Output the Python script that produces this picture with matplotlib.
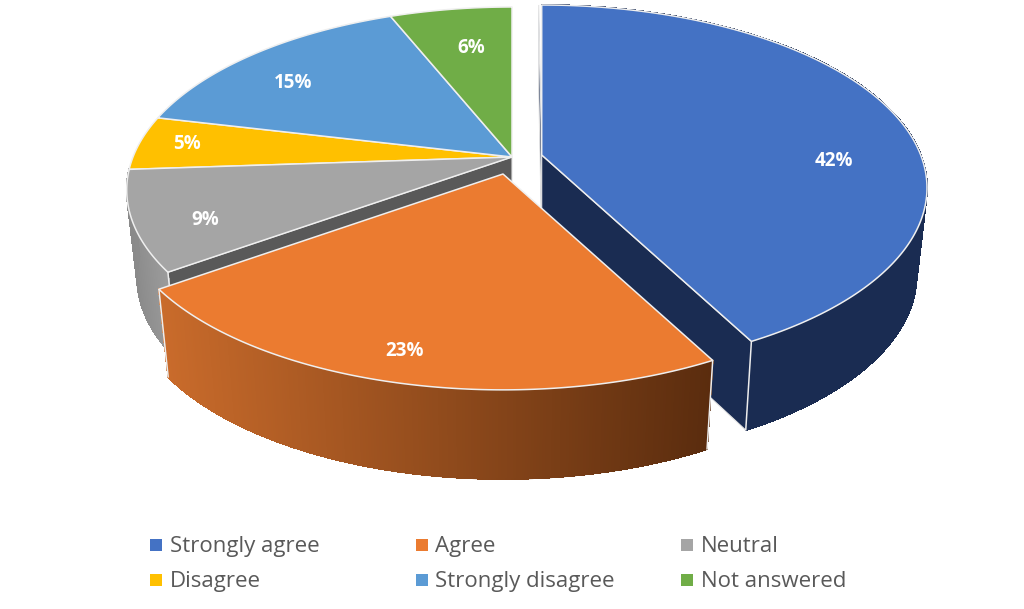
import numpy as np
import matplotlib
matplotlib.use("Agg")
import matplotlib.pyplot as plt
from matplotlib.collections import PolyCollection, LineCollection
from matplotlib.patches import Polygon
from matplotlib.colors import to_rgb

categories = ["Strongly agree", "Agree", "Neutral", "Disagree", "Strongly disagree", "Not answered"]
shares = [42.3, 22.8, 8.8, 4.8, 15.2, 6.1]

colors = ["#4472C4", "#EB7B30", "#A5A5A5", "#FFC000", "#5B9BD5", "#70AD47"]
wall_left = ["#1A2C52", "#C96B2B", "#8A8A8A"]
wall_right = ["#1A2C52", "#5A2C0E", "#9C9C9C"]
inner = ["#1A2C52", "#5A2C0E", "#595959"]
apex = [(541.7, 155), (503, 174), (512, 157), (512, 157), (512, 157), (512, 157)]
rim_corners = [(1,), (0, 1), (0,)]
flat_walls = [(0, 1), (), (0,)]
label_xy = [(834, 161), (405, 351), (205, 220), (187, 144), (293, 83), (471, 48)]

A, B, K = 379.0, 177.0, 0.18
DEPTH, SHRINK = 86.5, 0.973


def top(theta, r, c):
    u, v = r * np.sin(theta), r * np.cos(theta)
    w = 1 + K * v
    return c[0] + A * u / w, c[1] - B * v / w


def bottom(x, y, c):
    return c[0] + (np.asarray(x) - c[0]) * SHRINK, np.asarray(y) + DEPTH + 0.012 * (np.asarray(y) - c[1])


fig = plt.figure(figsize=(10.24, 6.09), dpi=100)
ax = fig.add_axes([0, 0, 1, 1])
ax.set_xlim(0, 1024)
ax.set_ylim(609, 0)
ax.axis("off")

edges = np.cumsum([0] + shares) / sum(shares) * 2 * np.pi
z = 2


def draw_walls(i):
    global z
    c = apex[i]
    th = np.linspace(edges[i], edges[i + 1], 220)
    xs, ys = top(th, 1.0, c)
    xb, yb = bottom(xs, ys, c)
    for side in flat_walls[i]:
        e = edges[i + side]
        xe, ye = top(e, 1.0, c)
        if e == 0:
            xe = xe - 3.0
        xc, yc = bottom(np.array([xe, c[0]]), np.array([ye, c[1]]), c)
        ax.add_patch(Polygon([(xe, ye), c, (xc[1], yc[1]), (xc[0], yc[0])], closed=True,
                             fc=inner[i], ec="#E4E4E4", lw=0.8, zorder=z))
    z += 1
    quads = [[(xs[j], ys[j]), (xs[j + 1], ys[j + 1]), (xb[j + 1], yb[j + 1]), (xb[j], yb[j])]
             for j in range(len(th) - 1)]
    x0, x1 = xs.min(), xs.max()
    t = (0.5 * (xs[:-1] + xs[1:]) - x0) / max(x1 - x0, 1)
    cl, cr = np.array(to_rgb(wall_left[i])), np.array(to_rgb(wall_right[i]))
    fc = cl[None, :] * (1 - t[:, None]) + cr[None, :] * t[:, None]
    ax.add_collection(PolyCollection(quads, facecolors=fc, edgecolors=fc, linewidths=0.7,
                                     antialiaseds=False, zorder=z))
    segs = [[(xb[j], yb[j]), (xb[j + 1], yb[j + 1])] for j in range(len(th) - 1)]
    ax.add_collection(LineCollection(segs, colors=fc, linewidths=1.0, zorder=z))
    z += 1
    for j in rim_corners[i]:
        k = -j
        ax.plot([xs[k], xb[k]], [ys[k], yb[k]], color="#EDEDED", lw=1.1, zorder=z, solid_capstyle="round")
    z += 1


def draw_top(i):
    global z
    c = apex[i]
    th = np.linspace(edges[i], edges[i + 1], 220)
    xs, ys = top(th, 1.0, c)
    ax.add_patch(Polygon(np.r_[[c], np.c_[xs, ys]], closed=True, fc=colors[i], ec="#EFEFEF",
                         lw=1.1, joinstyle="round", zorder=z))
    z += 1


draw_walls(2)
for i in (3, 4, 5, 2):
    draw_top(i)
draw_walls(0)
draw_top(0)
draw_walls(1)
draw_top(1)

for xy, v in zip(label_xy, shares):
    ax.text(xy[0], xy[1], f"{round(v)}%", color="white", fontsize=13.5, fontweight="bold",
            family="Open Sans", ha="center", va="center", zorder=z)

swatch_x = [156, 422, 687]
text_x = [170, 435, 701]
row_y = [545, 580]
for k, (name, col) in enumerate(zip(categories, colors)):
    r, cidx = divmod(k, 3)
    ax.plot(swatch_x[cidx], row_y[r], marker="s", ms=8, color=col, mew=0, zorder=z)
    ax.text(text_x[cidx], row_y[r] + 1.5, name, color="#595959", fontsize=16, family="Open Sans",
            ha="left", va="center", zorder=z)

fig.savefig("out.png", dpi=100, facecolor="white")
